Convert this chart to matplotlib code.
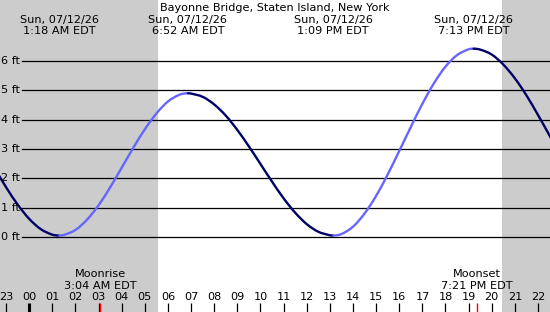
import matplotlib
matplotlib.use("Agg")
from matplotlib import pyplot as plt
from matplotlib.path import Path
from matplotlib.patches import PathPatch

# tide height every half hour (hours after midnight, ft)
hours = [h * 0.5 for h in range(-3, 47)]
heights = [2.36, 1.70, 1.11, 0.62, 0.27, 0.08,
           0.07, 0.24, 0.59, 1.08, 1.69, 2.36, 3.04, 3.67, 4.21, 4.62, 4.85,
           4.89, 4.78, 4.52, 4.14, 3.65, 3.09, 2.49, 1.89, 1.32, 0.83, 0.44, 0.18, 0.06,
           0.10, 0.35, 0.80, 1.40, 2.13, 2.93, 3.75, 4.54, 5.24, 5.81, 6.20, 6.40,
           6.39, 6.22, 5.88, 5.41, 4.83, 4.16, 3.46, 2.74]

# highs and lows
event_times = [1.3, 6.867, 13.15, 19.217]
event_heights = [0.05, 4.9, 0.05, 6.42]
event_labels = ["1:18 AM EDT", "6:52 AM EDT", "1:09 PM EDT", "7:13 PM EDT"]
date_label = "Sun, 07/12/26"
title = "Bayonne Bridge, Staten Island, New York"

sunrise = 5.57
sunset = 20.44

moon_times = [3.067, 19.35]
moon_names = ["Moonrise", "Moonset"]
moon_labels = ["3:04 AM EDT", "7:21 PM EDT"]

ft_ticks = [0, 1, 2, 3, 4, 5, 6]
hour_ticks = list(range(-1, 23))

# pixel scale of the original picture
PX_HOUR = 23.13
PX_FT = 29.33
ZERO_Y = 237
W, H = 550, 312
x0 = -1.26
x1 = x0 + W / PX_HOUR


def px_x(px):
    return x0 + px / PX_HOUR


def px_y(px):
    return (ZERO_Y - px) / PX_FT


RISE = "#6666ff"
FALL = "#000066"
FONT = dict(family="DejaVu Sans", fontsize=8.1, color="black")

fig = plt.figure(figsize=(W / 100, H / 100), dpi=100, facecolor="#cccccc")
ax = fig.add_axes([0, 0, 1, 1])
ax.set_facecolor("#cccccc")
ax.set_xlim(x0, x1)
ax.set_ylim(px_y(H), px_y(0))
ax.axis("off")

# daylight
ax.axvspan(sunrise, sunset, color="white", zorder=0, lw=0)

# height grid lines
for f in ft_ticks:
    ax.plot([px_x(22), x1], [f, f], color="black", lw=0.9, zorder=1)
    ax.text(px_x(1), f, f"{f} ft", ha="left", va="center", **FONT)

# tide curve: smooth line through the readings,
# light when rising, dark when falling
pts = sorted(zip(hours + event_times, heights + event_heights))
ts = [p[0] for p in pts]
hs = [p[1] for p in pts]
n = len(pts)
slopes = []
for i in range(n):
    if ts[i] in event_times:
        slopes.append(0.0)
    elif i == 0:
        slopes.append((hs[1] - hs[0]) / (ts[1] - ts[0]))
    elif i == n - 1:
        slopes.append((hs[-1] - hs[-2]) / (ts[-1] - ts[-2]))
    else:
        slopes.append((hs[i + 1] - hs[i - 1]) / (ts[i + 1] - ts[i - 1]))


def draw_run(i0, i1, color):
    verts = [(ts[i0], hs[i0])]
    codes = [Path.MOVETO]
    for i in range(i0, i1):
        dt = ts[i + 1] - ts[i]
        verts += [(ts[i] + dt / 3, hs[i] + slopes[i] * dt / 3),
                  (ts[i + 1] - dt / 3, hs[i + 1] - slopes[i + 1] * dt / 3),
                  (ts[i + 1], hs[i + 1])]
        codes += [Path.CURVE4] * 3
    ax.add_patch(PathPatch(Path(verts, codes), fill=False, edgecolor=color,
                           lw=1.7, zorder=2, capstyle="round"))


start = 0
run_color = None
for i in range(n - 1):
    c = RISE if hs[i + 1] > hs[i] else FALL
    if run_color is not None and c != run_color:
        draw_run(start, i, run_color)
        start = i
    run_color = c
draw_run(start, n - 1, run_color)

# top texts
ax.text(px_x(W / 2), px_y(8), title, ha="center", va="center", **FONT)
for t, lab in zip(event_times, event_labels):
    ax.text(t, px_y(20), date_label, ha="center", va="center", **FONT)
    ax.text(t, px_y(31.5), lab, ha="center", va="center", **FONT)

# hour axis at the bottom
for h in hour_ticks:
    ax.text(h, px_y(297), f"{h % 24:02d}", ha="center", va="center", **FONT)
    ax.plot([h, h], [px_y(303), px_y(H)], color="black",
            lw=2.2 if h == 0 else 0.9, zorder=3, solid_capstyle="butt")

# moon rise / set
for t, name, lab in zip(moon_times, moon_names, moon_labels):
    ax.text(t, px_y(274), name, ha="center", va="center", **FONT)
    ax.text(t, px_y(286), lab, ha="center", va="center", **FONT)
    ax.plot([t, t], [px_y(303), px_y(H)], color="red", lw=1.0, zorder=4,
            solid_capstyle="butt")

fig.savefig("out.png", dpi=100, facecolor=fig.get_facecolor())
plt.close()
